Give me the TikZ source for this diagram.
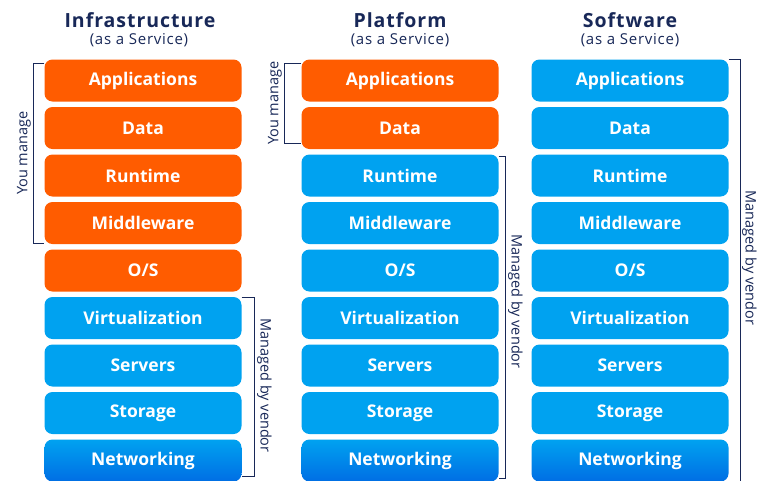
\documentclass[tikz,border=0pt]{standalone}
\usepackage{fontspec}
\setmainfont{Open Sans}
\newfontfamily\headfont[LetterSpace=5]{Open Sans}
\usetikzlibrary{calc}

\definecolor{ownorange}{RGB}{255,92,0}
\definecolor{vendorblue}{RGB}{0,162,240}
\definecolor{netblue}{RGB}{0,110,228}
\definecolor{navy}{RGB}{24,40,88}

\tikzset{
  layer/.style={rounded corners=8pt, minimum width=197pt, minimum height=42pt,
    inner sep=0pt, text=white, font=\fontsize{17.5}{17.5}\selectfont\bfseries},
  own/.style={layer, fill=ownorange},
  vendor/.style={layer, fill=vendorblue},
  network/.style={layer, top color=vendorblue, bottom color=netblue},
  bracket/.style={draw=navy, line width=1pt},
  side/.style={text=navy, font=\fontsize{14.5}{14.5}\selectfont, inner sep=2pt},
  title/.style={text=navy, font=\headfont\fontsize{19.5}{19.5}\selectfont\bfseries},
  subtitle/.style={text=navy, font=\headfont\fontsize{15}{15}\selectfont},
}

\begin{document}
\begin{tikzpicture}[x=1pt, y=-1pt]
\path [fill=white, use as bounding box] (0,0) rectangle (760,480);

% headings
\node [title] (ihead) at (140,20) {Infrastructure};
\node [subtitle] (isub) at (139,40) {(as a Service)};
\node [title] (phead) at (400,20) {Platform};
\node [subtitle] (psub) at (400,40) {(as a Service)};
\node [title] (shead) at (630,20) {Software};
\node [subtitle] (ssub) at (630,40) {(as a Service)};

% the three stacks, orange = managed by you
\foreach \col/\x/\nown in {i/143/5, p/400/2, s/630/0} {
  \foreach \lbl [count=\r] in {Applications,Data,Runtime,Middleware,{O/S},Virtualization,Servers,Storage,Networking} {
    \ifnum\r=9 \def\kind{network}\else
      \ifnum\r>\nown \def\kind{vendor}\else \def\kind{own}\fi
    \fi
    \node [\kind] (\col\r) at (\x, 33+47.5*\r) {\lbl};
  }
}

% brackets
\draw [bracket] ($(i1.north west)+(0,4)$) -- ++(-11,0)
  -- node [side, rotate=90, above] {You manage} ($(i4.south west)+(-11,-1)$) -- ($(i4.south west)+(0,-1)$);
\draw [bracket] ($(i6.north east)+(0,1)$) -- ++(13,0)
  -- node [side, rotate=-90, above, pos=0.49] {Managed by vendor} ($(i9.south east)+(13,-5)$) -- ($(i9.south east)+(0,-5)$);

\draw [bracket] ($(p1.north west)+(0,4)$) -- ++(-17,0)
  -- node [side, rotate=90, above] {You manage} ($(p2.south west)+(-17,-6)$) -- ($(p2.south west)+(0,-6)$);
\draw [bracket] ($(p3.north east)+(0,2)$) -- ++(7,0)
  -- node [side, rotate=-90, above, pos=0.45] {Managed by vendor} ($(p9.south east)+(7,-3)$) -- ($(p9.south east)+(0,-3)$);

\draw [bracket] (s1.north east) -- ++(12,0)
  -- node [side, rotate=-90, above=-1pt, pos=0.47] {Managed by vendor} ($(s9.south east)+(12,0)$) -- (s9.south east);
\end{tikzpicture}
\end{document}
